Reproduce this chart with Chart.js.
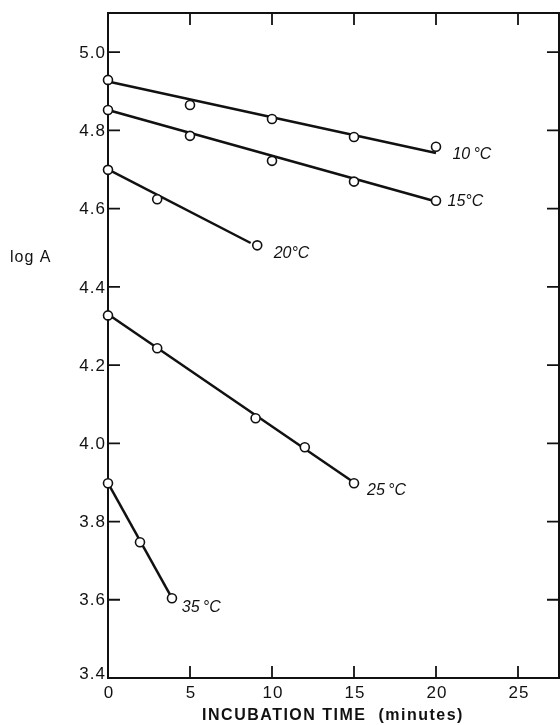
<!DOCTYPE html>
<html>
<head>
<meta charset="utf-8">
<script src="https://cdn.jsdelivr.net/npm/chart.js@4.4.1/dist/chart.umd.min.js"></script>
<style>
  body { margin: 0; background: #fff; overflow: hidden; }
  #wrap { width: 560px; height: 725px; position: relative; }
</style>
</head>
<body>
<div id="wrap"><canvas id="myChart"></canvas></div>
<script>
// measured points (minutes, log A)
var time10 = [0, 5, 10, 15, 20];
var logA10 = [4.929, 4.865, 4.829, 4.783, 4.758];
var time15 = [0, 5, 10, 15, 20];
var logA15 = [4.852, 4.786, 4.722, 4.669, 4.620];
var time20 = [0, 3, 9.1];
var logA20 = [4.699, 4.624, 4.506];
var time25 = [0, 3, 9, 12, 15];
var logA25 = [4.327, 4.243, 4.064, 3.990, 3.898];
var time35 = [0, 1.95, 3.9];
var logA35 = [3.898, 3.747, 3.604];

// fitted lines (end points)
var fitTime10 = [0, 20];
var fitLogA10 = [4.925, 4.742];
var fitTime15 = [0, 20];
var fitLogA15 = [4.852, 4.618];
var fitTime20 = [0, 8.7];
var fitLogA20 = [4.700, 4.512];
var fitTime25 = [0, 15];
var fitLogA25 = [4.330, 3.900];
var fitTime35 = [0, 3.9];
var fitLogA35 = [3.898, 3.604];

var curveLabels = ['10\u2009\u00b0C', '15\u00b0C', '20\u00b0C', '25\u2009\u00b0C', '35\u2009\u00b0C'];
var xTicks = [0, 5, 10, 15, 20, 25];
var yTicks = [3.4, 3.6, 3.8, 4.0, 4.2, 4.4, 4.6, 4.8, 5.0];

// where each curve label sits (data coords)
var labelAt = [[21.0, 4.737], [20.7, 4.619], [10.1, 4.486], [15.8, 3.880], [4.5, 3.581]];

function pairs(xs, ys) {
    return xs.map(function(x, i) { return { x: x, y: ys[i] }; });
}

var pointSets = [[time10, logA10], [time15, logA15], [time20, logA20], [time25, logA25], [time35, logA35]];
var lineSets = [[fitTime10, fitLogA10], [fitTime15, fitLogA15], [fitTime20, fitLogA20], [fitTime25, fitLogA25], [fitTime35, fitLogA35]];

var datasets = [];
lineSets.forEach(function(s, i) {
    datasets.push({
        label: curveLabels[i] + ' fit',
        data: pairs(s[0], s[1]),
        showLine: true,
        borderColor: '#111',
        borderWidth: 2.5,
        pointRadius: 0,
        clip: false,
        order: 2
    });
});
pointSets.forEach(function(s, i) {
    datasets.push({
        label: curveLabels[i],
        data: pairs(s[0], s[1]),
        showLine: false,
        pointRadius: 4.5,
        pointBorderWidth: 1.6,
        pointBorderColor: '#111',
        pointBackgroundColor: '#fff',
        clip: false,
        order: 1
    });
});

var FONT = '"Liberation Sans", Arial, sans-serif';

var framePlugin = {
    id: 'frame',
    beforeDatasetsDraw: function(chart) {
        var ctx = chart.ctx;
        var a = chart.chartArea;
        var xs = chart.scales.x, ys = chart.scales.y;
        ctx.save();
        ctx.strokeStyle = '#111';
        ctx.lineWidth = 2;
        ctx.strokeRect(a.left, a.top, a.right - a.left, a.bottom - a.top);

        // inward ticks on all four sides
        ctx.lineWidth = 1.8;
        ctx.beginPath();
        xTicks.forEach(function(v) {
            var px = xs.getPixelForValue(v);
            ctx.moveTo(px, a.bottom); ctx.lineTo(px, a.bottom - 12);
            ctx.moveTo(px, a.top); ctx.lineTo(px, a.top + 12);
        });
        yTicks.forEach(function(v) {
            var py = ys.getPixelForValue(v);
            ctx.moveTo(a.left, py); ctx.lineTo(a.left + 12, py);
            ctx.moveTo(a.right, py); ctx.lineTo(a.right - 12, py);
        });
        ctx.stroke();

        // tick labels
        ctx.fillStyle = '#111';
        ctx.letterSpacing = '1px';
        ctx.font = '17px ' + FONT;
        ctx.textAlign = 'right';
        ctx.textBaseline = 'middle';
        yTicks.forEach(function(v) {
            var py = ys.getPixelForValue(v);
            ctx.fillText(v.toFixed(1), a.left - 2, v === 3.4 ? py - 4 : py + 1);
        });
        ctx.textAlign = 'center';
        xTicks.forEach(function(v) {
            ctx.fillText(String(v), xs.getPixelForValue(v) + 1, a.bottom + 15);
        });

        // axis titles
        ctx.font = '16px ' + FONT;
        ctx.textAlign = 'left';
        ctx.fillText('log A', 10, 258);
        ctx.font = 'bold 16px ' + FONT;
        ctx.letterSpacing = '1.5px';
        ctx.textAlign = 'center';
        ctx.fillText('INCUBATION TIME  (minutes)', 333, 716);
        ctx.restore();
    },
    afterDraw: function(chart) {
        var ctx = chart.ctx;
        var xs = chart.scales.x, ys = chart.scales.y;
        ctx.save();
        ctx.fillStyle = '#111';
        ctx.font = 'italic 16px ' + FONT;
        ctx.textAlign = 'left';
        ctx.textBaseline = 'middle';
        curveLabels.forEach(function(t, i) {
            ctx.fillText(t, xs.getPixelForValue(labelAt[i][0]), ys.getPixelForValue(labelAt[i][1]));
        });
        ctx.restore();
    }
};

var ctx = document.getElementById('myChart').getContext('2d');
window.myChart = new Chart(ctx, {
    type: 'scatter',
    data: { datasets: datasets },
    options: {
        responsive: true,
        maintainAspectRatio: false,
        animation: false,
        layout: { autoPadding: false, padding: { top: 13, right: 1, left: 0, bottom: 0 } },
        plugins: {
            legend: { display: false },
            tooltip: { enabled: false }
        },
        scales: {
            x: {
                type: 'linear',
                min: 0,
                max: 27.5,
                afterFit: function(scale) { scale.height = 47; },
                grid: { display: false, drawTicks: false },
                border: { display: false },
                ticks: { display: false, stepSize: 5 }
            },
            y: {
                type: 'linear',
                min: 3.4,
                max: 5.1,
                afterFit: function(scale) { scale.width = 108; },
                grid: { display: false, drawTicks: false },
                border: { display: false },
                ticks: { display: false, stepSize: 0.2 }
            }
        }
    },
    plugins: [framePlugin]
});
</script>
</body>
</html>
